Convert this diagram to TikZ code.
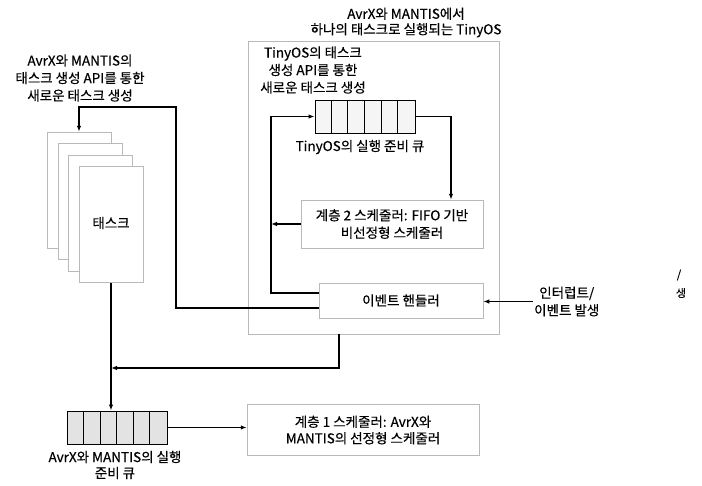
\documentclass[tikz,border=0pt]{standalone}
\usepackage{fontspec}
\newfontfamily\kr[FakeBold=0.35]{Noto Sans CJK KR}
\usetikzlibrary{arrows.meta,calc}
\begin{document}
\begin{tikzpicture}[x=1pt,y=-1pt,
  lbl/.style={font=\kr\fontsize{13.5}{17.5}\selectfont, align=center, inner sep=1pt},
  gbox/.style={draw=gray!55, line width=0.5pt, fill=white, inner sep=0pt},
  card/.style={gbox, minimum width=64pt, minimum height=116pt},
  conn/.style={line width=1.2pt, black},
  arr/.style={conn, -{Latex[length=6pt,width=4.5pt]}},
  qcell/.style={draw=black, line width=0.9pt, inner sep=0pt, minimum width=100pt, minimum height=33pt}
]
\useasboundingbox (0,0) rectangle (702,485);
\fill[white] (0,0) rectangle (702,485);

% titles
\node[lbl, font=\kr\fontsize{13.5}{15.5}\selectfont] (title) at (406,22.5) {AvrX와 MANTIS에서\\하나의 태스크로 실행되는 TinyOS};
\node[lbl] (ltitle) at (80,78) {AvrX와 MANTIS의\\태스크 생성 API를 통한\\새로운 태스크 생성};

% TinyOS outer box
\node[gbox, fill=none, minimum width=251pt, minimum height=293pt] (tb) at (373.5,187.5) {};
\node[lbl] (ttitle) at (313,70) {TinyOS의 태스크\\생성 API를 통한\\새로운 태스크 생성};

% TinyOS queue
\node[qcell, fill=gray!8] (tq) at (365,116.5) {};
\foreach \k in {1,...,5} \draw[line width=0.9pt] ($(tq.north west)+(\k*100/6,0)$) -- ($(tq.south west)+(\k*100/6,0)$);
\node[lbl] (tql) at (360,147) {TinyOS의 실행 준비 큐};

% FIFO scheduler
\node[gbox, minimum width=182pt, minimum height=48pt] (fifo) at (392,224) {};
\node[lbl] (fifol) at (392,224) {계층 2 스케줄러: FIFO 기반\\비선정형 스케줄러};

% event handler
\node[gbox, minimum width=164pt, minimum height=35pt] (eh) at (401,300.5) {};
\node[lbl] (ehl) at (401,300.5) {이벤트 핸들러};

% interrupt
\node[lbl, anchor=west] (intr) at (533,301.5) {인터럽트/\\이벤트 발생};

% task cards
\node[card] (c1) at (79,190) {};
\node[card] (c2) at (90,201.5) {};
\node[card] (c3) at (100.5,213) {};
\node[card] (c4) at (111,224.5) {};
\node[lbl] (taskl) at (111,223) {태스크};

% AvrX queue
\node[qcell, fill=gray!22] (aq) at (117.5,427.5) {};
\foreach \k in {1,...,5} \draw[line width=0.9pt] ($(aq.north west)+(\k*99/6,0)$) -- ($(aq.south west)+(\k*99/6,0)$);
\node[lbl, font=\kr\fontsize{13.5}{16}\selectfont] (aql) at (115,465) {AvrX와 MANTIS의 실행\\준비 큐};

% layer 1 scheduler
\node[gbox, minimum width=232pt, minimum height=51pt] (l1) at (363,429.5) {};
\node[lbl, font=\kr\fontsize{13.5}{16.5}\selectfont] (l1l) at (363,430) {계층 1 스케줄러: AvrX와\\MANTIS의 선정형 스케줄러};

% stray marks at the right edge
\node[lbl, font=\kr\fontsize{11}{13}\selectfont] (s1) at (679,275) {/};
\node[lbl, font=\kr\fontsize{11}{13}\selectfont] (s2) at (681,293) {생};

% coordinates for bends
\coordinate (jx) at (271,223);
\coordinate (tx) at (176,107);
\coordinate (qx) at (451,116);
\coordinate (bx) at (339,368);

% connectors
\draw[arr] (tq.east) -| (qx |- fifo.north);
\draw[arr] (fifo.west) -- (fifo.west -| jx);
\draw[arr] ([yshift=7.5pt]eh.west) -| (jx |- tq.west) -- (tq.west);
\draw[arr] ([yshift=-7.5pt]eh.west) -| (tx) -| (c1.north);
\draw[arr] (intr.west) -- (intr.west -| eh.east);
\draw[arr] (bx |- tb.south) -- (bx) -- (bx -| c4.south);
\draw[arr] (c4.south) -- (c4.south |- aq.north);
\draw[arr] (aq.east) -- (aq.east -| l1.west);
\end{tikzpicture}
\end{document}
